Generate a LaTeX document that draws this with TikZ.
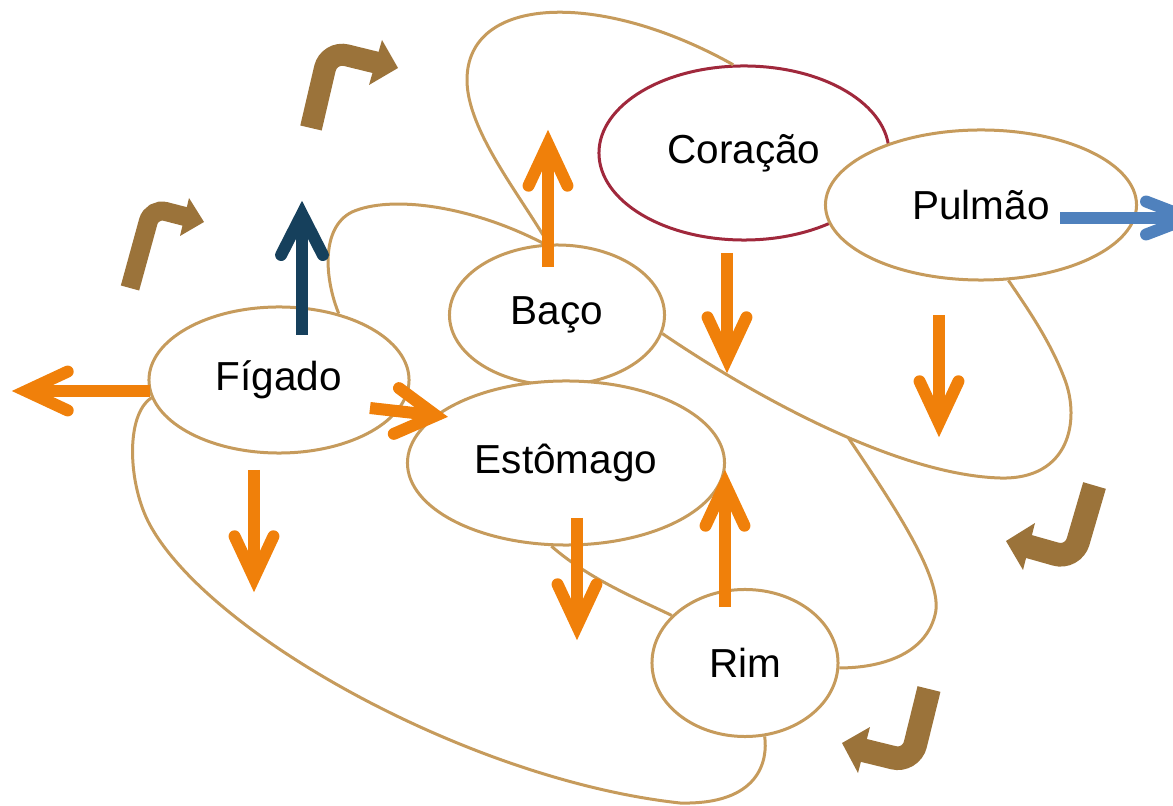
\documentclass[tikz,border=0pt]{standalone}
\usepackage{fontspec}
\setmainfont{Liberation Sans}
\usetikzlibrary{shapes.geometric,calc}

\definecolor{corAlca}{RGB}{198,155,92}
\definecolor{corSeta}{RGB}{240,128,10}
\definecolor{corCurva}{RGB}{155,115,58}
\definecolor{corAzulEsc}{RGB}{22,64,92}
\definecolor{corAzul}{RGB}{79,129,189}
\definecolor{corCoracao}{RGB}{160,40,60}

\begin{document}
\begin{tikzpicture}[x=0.025cm,y=-0.025cm,
    orgao/.style={ellipse,draw=corAlca,line width=0.075cm,fill=white,inner sep=0pt,
        font=\fontsize{28.8}{34}\selectfont},
    alca/.style={draw=corAlca,line width=0.075cm},
    seta/.style={draw=#1,line width=0.3cm},
    curva/.style={draw=corCurva,line width=0.55cm,rounded corners=0.45cm}]
    \useasboundingbox (0,0) rectangle (1173,806);

    % the organs
    \node[orgao,draw=corCoracao,minimum width=7.25cm,minimum height=4.35cm] (coracao) at (744,153) {Coração};
    \node[orgao,minimum width=7.775cm,minimum height=3.75cm] (pulmao) at (981,205) {Pulmão};
    \node[orgao,minimum width=5.375cm,minimum height=3.5cm] (baco) at (557,315) {Baço};
    \node[orgao,minimum width=6.5cm,minimum height=3.65cm] (figado) at (279,380) {Fígado};
    \node[orgao,minimum width=7.925cm,minimum height=4.1cm] (estomago) at (566,463) {Estômago};
    \node[orgao,minimum width=4.65cm,minimum height=3.675cm] (rim) at (745,663) {Rim};

    % the loops between the organs
    \draw[alca] (baco.97) .. controls (520,195) and (467,130) .. (467,80)
                .. controls (467,-5) and (600,-10) .. (coracao.97);
    \draw[alca] (baco.100) .. controls (470,205) and (390,195) .. (352,212)
                .. controls (320,228) and (325,280) .. (figado.48);
    \draw[alca] (baco.-10) .. controls (760,400) and (900,475) .. (1000,478) coordinate[pos=0.55] (ramo)
                .. controls (1070,480) and (1080,420) .. (1065,380)
                .. controls (1050,340) and (1025,305) .. (pulmao.-70);
    \draw[alca] (ramo) .. controls (890,500) and (945,580) .. (935,615)
                .. controls (925,655) and (880,668) .. (rim.-3);
    \draw[alca] (estomago.-100) .. controls (590,580) and (640,600) .. (rim.147);
    \draw[alca] (figado.188) .. controls (125,415) and (128,485) .. (150,525)
                .. controls (210,635) and (470,780) .. (680,803)
                .. controls (760,805) and (768,760) .. (rim.-75);

    % ends of the straight arrows
    \coordinate (figEsqA) at (150,391);  \coordinate (figEsqB) at (26,391);
    \coordinate (figEstA) at (370,408);  \coordinate (figEstB) at (436,415.5);
    \coordinate (figBaiA) at (254,470);  \coordinate (figBaiB) at (254,578);
    \coordinate (figCimA) at (302,335);  \coordinate (figCimB) at (302,214);
    \coordinate (estBaiA) at (577,518);  \coordinate (estBaiB) at (577,626);
    \coordinate (rimCimA) at (725,607);  \coordinate (rimCimB) at (725,484);
    \coordinate (bacCimA) at (548,267);  \coordinate (bacCimB) at (548,144);
    \coordinate (corBaiA) at (727,253);  \coordinate (corBaiB) at (727,359);
    \coordinate (pulBaiA) at (939,315);  \coordinate (pulBaiB) at (939,423);
    \coordinate (pulDirA) at (1060,218); \coordinate (pulDirB) at (1189,218);

    \foreach \a/\b/\c/\ang in {
        figEsqA/figEsqB/corSeta/25,
        figEstA/figEstB/corSeta/30,
        figBaiA/figBaiB/corSeta/25,
        estBaiA/estBaiB/corSeta/25,
        rimCimA/rimCimB/corSeta/25,
        bacCimA/bacCimB/corSeta/25,
        corBaiA/corBaiB/corSeta/25,
        pulBaiA/pulBaiB/corSeta/25,
        figCimA/figCimB/corAzulEsc/27,
        pulDirA/pulDirB/corAzul/21} {
            \draw[seta=\c] (\a) -- (\b);
            \draw[seta=\c,line cap=round] ($(\b)!1.15cm!\ang:(\a)$) -- (\b) -- ($(\b)!1.15cm!-\ang:(\a)$);
    }

    % the bent arrows
    \draw[curva,line width=0.475cm,rounded corners=0.35cm] (130,288) -- (152,208) -- (187,217);
    \fill[corCurva] (189,198) -- (204,222) -- (180,236) -- cycle;
    \draw[curva] (311,128) -- (329,51) -- (378,63);
    \fill[corCurva] (382,40) -- (398,68) -- (369,85) -- cycle;
    \draw[curva,line width=0.59cm] (1094.5,485.5) -- (1073,559) -- (1027,546);
    \fill[corCurva] (1035,523) -- (1006,541) -- (1023,570) -- cycle;
    \draw[curva,line width=0.59cm] (929,689) -- (911,762) -- (862,750);
    \fill[corCurva] (870,727) -- (842,743) -- (858,773) -- cycle;
\end{tikzpicture}
\end{document}
